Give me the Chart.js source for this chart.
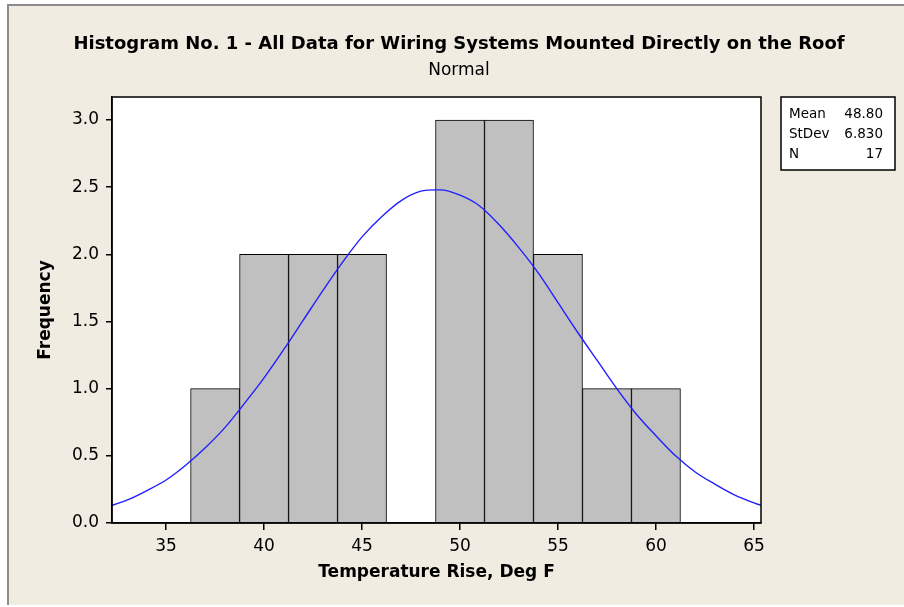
<!DOCTYPE html>
<html>
<head>
<meta charset="utf-8">
<script src="https://cdn.jsdelivr.net/npm/chart.js@4.4.1/dist/chart.umd.min.js"></script>
<style>
  html, body { margin: 0; padding: 0; background: #ffffff; }
  #wrap { width: 904px; height: 607px; }
</style>
</head>
<body>
<div id="wrap"><canvas id="myChart" width="904" height="607"></canvas></div>
<script>
//histogram bins (midpoints) and counts
const binMid = [37.5, 40, 42.5, 45, 47.5, 50, 52.5, 55, 57.5, 60];
const binCount = [1, 2, 2, 2, 0, 3, 3, 2, 1, 1];

//fitted normal curve
const curveX = [32, 33, 34, 35, 36, 37, 38, 39, 40, 41, 42, 43, 44, 45, 46, 47, 48, 48.8, 49, 50,
	51, 52, 53, 54, 55, 56, 57, 58, 59, 60, 61, 62, 63, 64, 65, 66];
const curveY = [0.12, 0.17, 0.24, 0.32, 0.43, 0.56, 0.71, 0.89, 1.08, 1.29, 1.51, 1.73, 1.94, 2.13, 2.28, 2.40, 2.47, 2.48, 2.48, 2.44,
	2.36, 2.22, 2.05, 1.86, 1.64, 1.42, 1.21, 1.00, 0.81, 0.65, 0.50, 0.38, 0.29, 0.21, 0.15, 0.10];

//axis ticks
const xTicks = [35, 40, 45, 50, 55, 60, 65];
const yTicks = [0, 0.5, 1, 1.5, 2, 2.5, 3];

//summary box
const statLabels = ['Mean', 'StDev', 'N'];
const statValues = ['48.80', '6.830', '17'];

const FONT = "'DejaVu Sans', Tahoma, sans-serif";
const BEIGE = '#f1ece2';

//background, white plot area and outer frame
const framePlugin = {
	id: 'frame',
	beforeDraw(chart) {
		const c = chart.ctx;
		const a = chart.chartArea;
		c.save();
		c.fillStyle = '#ffffff';
		c.fillRect(0, 0, chart.width, chart.height);
		c.fillStyle = BEIGE;
		c.fillRect(7, 4, chart.width - 7, chart.height - 6);
		c.strokeStyle = '#8c8c8c';
		c.lineWidth = 2;
		c.beginPath();
		c.moveTo(8, chart.height - 2);
		c.lineTo(8, 5);
		c.lineTo(chart.width, 5);
		c.stroke();
		c.fillStyle = '#ffffff';
		c.fillRect(a.left, a.top, a.right - a.left, a.bottom - a.top);
		c.restore();
	},
	afterDatasetsDraw(chart) {
		const c = chart.ctx;
		const a = chart.chartArea;
		c.save();
		c.strokeStyle = '#000000';
		c.lineWidth = 1.5;
		c.strokeRect(a.left, a.top, a.right - a.left, a.bottom - a.top);
		c.restore();
	},
	afterDraw(chart) {
		const c = chart.ctx;
		c.save();
		c.fillStyle = '#ffffff';
		c.fillRect(781, 97, 114, 73);
		c.strokeStyle = '#000000';
		c.lineWidth = 1.5;
		c.strokeRect(781, 97, 114, 73);
		c.fillStyle = '#000000';
		c.font = '13.5px ' + FONT;
		c.textBaseline = 'middle';
		for (let i = 0; i < statLabels.length; i++) {
			const y = 114 + i * 20;
			c.textAlign = 'left';
			c.fillText(statLabels[i], 789, y);
			c.textAlign = 'right';
			c.fillText(statValues[i], 883, y);
		}
		c.restore();
	}
};

var ctx = document.getElementById('myChart');
var createChart = function(targElement) {
	return new Chart(targElement, {
		type: 'bar',
		data: {
			datasets: [
			{
				type: 'line',
				label: 'Normal',
				data: curveX.map((x, i) => ({ x: x, y: curveY[i] })),
				borderColor: '#2020ff',
				borderWidth: 1.4,
				pointRadius: 0,
				fill: false,
				cubicInterpolationMode: 'monotone',
				order: 0
			},
			{
				type: 'bar',
				label: 'Frequency',
				data: binMid.map((x, i) => ({ x: x, y: binCount[i] })),
				backgroundColor: '#c0c0c0',
				borderColor: '#000000',
				borderWidth: 1,
				barPercentage: 1,
				categoryPercentage: 1,
				order: 1
			}
			]
		},
		options: {
			responsive: false,
			animation: false,
			layout: { padding: { left: 14, right: 0, top: 0, bottom: 0 } },
			plugins: {
				legend: { display: false },
				tooltip: { enabled: false },
				title: {
					display: true,
					text: 'Histogram No. 1 - All Data for Wiring Systems Mounted Directly on the Roof',
					color: '#000000',
					font: { family: FONT, size: 18, weight: 'bold', lineHeight: 1.2 },
					padding: { top: 34, bottom: 0 }
				},
				subtitle: {
					display: true,
					text: 'Normal',
					color: '#000000',
					font: { family: FONT, size: 17, weight: 'normal', lineHeight: 1.2 },
					padding: { top: 5, bottom: 16 }
				}
			},
			scales: {
				x: {
					type: 'linear',
					min: 32.24,
					max: 65.36,
					offset: false,
					afterFit: s => { s.height = 84; },
					afterBuildTicks: s => { s.ticks = xTicks.map(v => ({ value: v })); },
					ticks: { color: '#000000', font: { family: FONT, size: 17 }, padding: 6, maxRotation: 0 },
					grid: { offset: false, drawOnChartArea: false, drawTicks: true, tickLength: 7, color: '#000000', lineWidth: 1.5 },
					border: { display: true, color: '#000000', width: 1.5 },
					title: {
						display: true,
						text: 'Temperature Rise, Deg F',
						color: '#000000',
						font: { family: FONT, size: 17, weight: 'bold', lineHeight: 1.2 },
						padding: { top: 0, bottom: 24 }
					}
				},
				y: {
					min: 0,
					max: 3.171,
					afterFit: s => { s.width = 98; },
					afterBuildTicks: s => { s.ticks = yTicks.map(v => ({ value: v })); },
					ticks: { color: '#000000', font: { family: FONT, size: 17 }, padding: 7, callback: v => v.toFixed(1) },
					grid: { drawOnChartArea: false, drawTicks: true, tickLength: 6, color: '#000000', lineWidth: 1.5 },
					border: { display: true, color: '#000000', width: 1.5 },
					title: {
						display: true,
						text: 'Frequency',
						color: '#000000',
						font: { family: FONT, size: 17, weight: 'bold', lineHeight: 1.2 },
						padding: { top: 21, bottom: 0 }
					}
				},
				//empty axis on the right, keeps room for the summary box
				yRight: {
					position: 'right',
					display: true,
					afterFit: s => { s.width = 143; },
					ticks: { display: false },
					grid: { display: false },
					border: { display: false }
				}
			}
		},
		plugins: [framePlugin]
	});
}

createChart(ctx);
</script>
</body>
</html>
